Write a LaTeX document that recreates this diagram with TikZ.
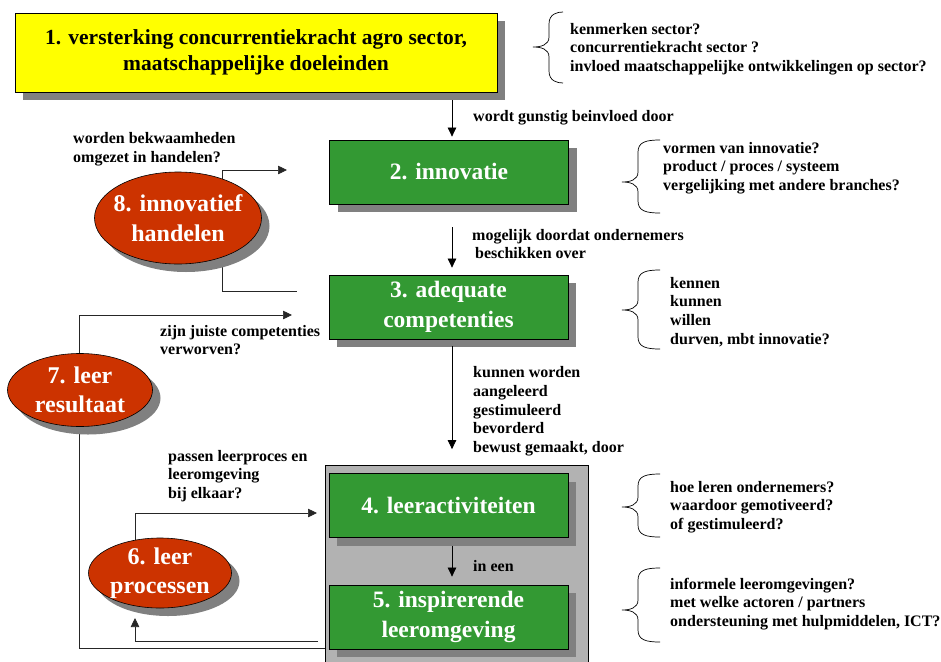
\documentclass[tikz,border=0pt]{standalone}
\usepackage{fontspec}
\setmainfont{Liberation Serif}
\usetikzlibrary{arrows.meta,shapes.geometric,shadows,backgrounds,calc}
\definecolor{boxgreen}{HTML}{339933}
\definecolor{ellred}{HTML}{CC3300}
\definecolor{shadowgray}{HTML}{808080}
\definecolor{panelgray}{HTML}{B2B2B2}
\definecolor{goalyellow}{HTML}{FFFF00}
\newcommand\qbrace[5]{% tip x, end x, top, bottom, mid
  \draw[bracestyle] (#2,#3) .. controls ({#1+24},#3) and ({#1+16},{#3+2}) .. ({#1+16},{#3+12})
    -- ({#1+16},{#5-10}) .. controls ({#1+16},{#5-2}) and ({#1+8},#5) .. (#1,#5)
    .. controls ({#1+8},#5) and ({#1+16},{#5+2}) .. ({#1+16},{#5+10})
    -- ({#1+16},{#4-12}) .. controls ({#1+16},{#4-2}) and ({#1+24},#4) .. (#2,#4);}
\begin{document}
\begin{tikzpicture}[x=1pt,y=-1pt,
  shadowed/.style={drop shadow={shadow xshift=8pt,shadow yshift=-8pt,fill=shadowgray,opacity=1}},
  stagebox/.style={draw=black,line width=0.8pt,fill=boxgreen,text=white,
    font=\bfseries\fontsize{23.5}{30}\selectfont,align=center,
    minimum width=239pt,minimum height=64pt,inner sep=0pt,shadowed},
  goalbox/.style={draw=black,line width=0.8pt,fill=goalyellow,text=black,
    font=\bfseries\fontsize{21.5}{25.5}\selectfont,align=center,
    minimum width=482pt,minimum height=79pt,inner sep=0pt,shadowed},
  actellipse/.style={ellipse,draw=black,line width=0.6pt,fill=ellred,inner sep=0pt,shadowed},
  elltext/.style={text=white,font=\bfseries\fontsize{24}{29.5}\selectfont,align=center,inner sep=0pt},
  note/.style={anchor=west,align=left,font=\bfseries\fontsize{16}{18.7}\selectfont,inner sep=0pt},
  arr/.style={-{Triangle[length=9pt,width=8.5pt]},line width=0.7pt},
  fb/.style={line width=0.7pt,draw=black!85},
  bracestyle/.style={line width=0.7pt}
]
\clip (0,0) rectangle (941,661);

% main chain
\node[goalbox] (n1) at (256,52.5) {1. versterking concurrentiekracht agro sector,\\maatschappelijke doeleinden};
\node[stagebox] (n2) at (449,172) {2. innovatie};
\node[stagebox] (n3) at (448.5,307) {3. adequate\\competenties};
\node[draw=black,line width=0.6pt,fill=panelgray,minimum width=263pt,minimum height=210pt,
  anchor=north west,inner sep=0pt] (panel) at (325,465) {};
\node[stagebox] (n4) at (448.5,505.5) {4. leeractiviteiten};
\node[stagebox] (n5) at (448.5,617) {5. inspirerende\\leeromgeving};

\coordinate (ax) at (452,0);
\draw[arr] ($(n1.south -| ax)+(0,8)$) -- ($(n2.north -| ax)+(0,-3)$);
\draw[arr] ($(n2.south -| ax)+(0,23)$) -- ($(n3.north -| ax)+(0,-7)$);
\draw[arr] ($(n3.south -| ax)+(0,7)$) -- ($(n4.north -| ax)+(0,-24)$);
\draw[arr] ($(n4.south -| ax)+(0,8)$) -- ($(n5.north -| ax)+(0,-8)$);

\node[note] (l12) at (473,118) {wordt gunstig beinvloed door};
\node[note] (l23) at (472,244) {mogelijk doordat ondernemers\\\hspace*{3pt}beschikken over};
\node[note] (l34) at (473,411.5) {kunnen worden\\aangeleerd\\gestimuleerd\\bevorderd\\bewust gemaakt, door};
\node[note] (l45) at (473,566) {in een};

% ellipses
\node[actellipse,minimum width=167pt,minimum height=92pt] (e8) at (178,218) {};
\node[elltext] (e8t) at (e8) {8. innovatief\\handelen};
\node[actellipse,minimum width=145pt,minimum height=73pt] (e7) at (80,390) {};
\node[elltext] (e7t) at (e7) {7. leer\\resultaat};
\node[actellipse,minimum width=143pt,minimum height=70pt] (e6) at (160,573) {};
\node[elltext] (e6t) at (e6) {6. leer\\processen};

% feedback connectors
\coordinate (x8) at (222,0);
\coordinate (x7) at (79,0);
\coordinate (x6) at (135,0);
\coordinate (t8) at (287,170);
\coordinate (b8) at (297,291);
\coordinate (t7) at (292,315);
\coordinate (t6) at (317,513);
\coordinate (s6) at (318,641);
\coordinate (h6) at (135,618);
\coordinate (b7) at (panel.west |- 0,648);
\begin{scope}[on background layer]
\draw[fb,arr] (e8.center -| x8) |- (t8);
\draw[fb] (e8.center -| x8) |- (b8);
\draw[fb,arr] (e7.center -| x7) |- (t7);
\draw[fb] (e7.center -| x7) |- (b7);
\draw[fb,arr] (e6.center -| x6) |- (t6);
\end{scope}
\draw[fb,arr] (s6) -| (h6);

\node[note] (q8) at (73,149) {worden bekwaamheden\\omgezet in handelen?};
\node[note] (q7) at (160,340) {zijn juiste competenties\\verworven?};
\node[note] (q6) at (168,476) {passen leerproces en\\leeromgeving\\bij elkaar?};

% braces and questions
\qbrace{533}{563}{12}{83}{47}
\qbrace{622}{660}{140}{213}{182}
\qbrace{622}{660}{270}{349}{310}
\qbrace{622}{660}{474}{537}{507}
\qbrace{622}{660}{568}{642}{610}

\node[note] (r1) at (570,49) {kenmerken sector?\\concurrentiekracht sector ?\\invloed maatschappelijke ontwikkelingen op sector?};
\node[note] (r2) at (663,168) {vormen van innovatie?\\product / proces / systeem\\vergelijking met andere branches?};
\node[note] (r3) at (670,312) {kennen\\kunnen\\willen\\durven, mbt innovatie?};
\node[note] (r4) at (670,507) {hoe leren ondernemers?\\waardoor gemotiveerd?\\of gestimuleerd?};
\node[note] (r5) at (670,604) {informele leeromgevingen?\\met welke actoren / partners\\ondersteuning met hulpmiddelen, ICT?};
\end{tikzpicture}
\end{document}
